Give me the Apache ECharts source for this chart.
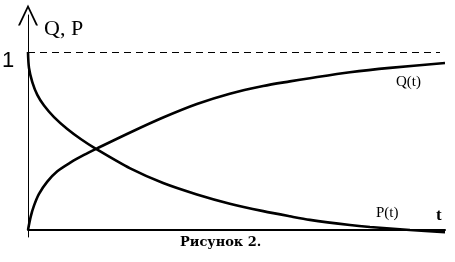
<!DOCTYPE html>
<html>
<head>
<meta charset="utf-8">
<script src="https://cdn.jsdelivr.net/npm/echarts@6/dist/echarts.min.js"></script>
<style>html,body{margin:0;padding:0;background:#fff}#c{width:455px;height:262px}</style>
</head>
<body>
<div id="c"></div>
<script>
// time (0..100 across the axis) and curve values
const qT = [0, 0.65, 1.44, 2.64, 4.63, 7.03, 10.24, 13.43, 16.6, 24.5, 32.4, 40.5, 48.4, 56.4, 62.8, 67.6, 77.2, 86.8, 100];
const qV = [0, 0.075, 0.137, 0.203, 0.272, 0.33, 0.38, 0.422, 0.459, 0.548, 0.632, 0.708, 0.766, 0.809, 0.835, 0.853, 0.886, 0.911, 0.938];
const pT = [0, 0.24, 1.03, 2.23, 3.84, 6.24, 9.42, 12.64, 16.2, 24.5, 32.4, 40.5, 48.4, 56.4, 62.8, 67.6, 77.2, 82.0, 91.6, 100];
const pV = [1.0, 0.91, 0.831, 0.759, 0.699, 0.634, 0.567, 0.511, 0.457, 0.346, 0.264, 0.2, 0.148, 0.106, 0.077, 0.057, 0.028, 0.017, 0.0, -0.012];
const refLevel = 1;
const axisLabelY = '1';
const axisNameY = 'Q, P';
const axisNameX = 't';
const seriesNames = ['Q(t)', 'P(t)'];
const caption = 'Рисунок 2.';

const chart = echarts.init(document.getElementById('c'), null, {renderer: 'canvas'});
const serif = '"Liberation Serif", "DejaVu Serif", serif';
chart.setOption({
  animation: false,
  backgroundColor: '#fff',
  grid: {left: 28, right: 10, top: 15, bottom: 25},
  xAxis: {
    type: 'value', min: 0, max: 100,
    axisLine: {onZero: true, lineStyle: {color: '#000', width: 2}},
    axisTick: {show: false}, axisLabel: {show: false}, splitLine: {show: false}
  },
  yAxis: {
    type: 'value', min: -0.0393, max: 1.2079,
    axisLine: {show: true, lineStyle: {color: '#000', width: 1},
      symbol: ['none', 'path://M0,21 L10,0 L20,21 L18,21 L10,4 L2,21 Z'],
      symbolSize: [20, 21]},
    axisTick: {show: false}, axisLabel: {show: false}, splitLine: {show: false}
  },
  series: [
    {
      name: seriesNames[0], type: 'line', smooth: 0.3, showSymbol: false,
      data: qT.map((t, i) => [t, qV[i]]),
      lineStyle: {color: '#000', width: 2.6},
      markLine: {
        silent: true, symbol: ['none', 'none'], label: {show: false},
        lineStyle: {color: '#000', width: 1, type: [7, 5]},
        data: [[{coord: [0, refLevel]}, {coord: [98.8, refLevel]}]]
      }
    },
    {
      name: seriesNames[1], type: 'line', smooth: 0.3, showSymbol: false,
      data: pT.map((t, i) => [t, pV[i]]),
      lineStyle: {color: '#000', width: 2.6}
    }
  ],
  graphic: [
    {type: 'text', left: 44, top: 18, style: {text: axisNameY, font: '22px ' + serif, fill: '#000'}},
    {type: 'text', left: 2, top: 50, style: {text: axisLabelY, font: '22px "Liberation Sans", Arial, sans-serif', fill: '#000'}},
    {type: 'text', left: 396, top: 75, style: {text: seriesNames[0], font: '15px ' + serif, fill: '#000'}},
    {type: 'text', left: 376, top: 206, style: {text: seriesNames[1], font: '15px ' + serif, fill: '#000'}},
    {type: 'text', left: 436, top: 207, style: {text: axisNameX, font: 'bold 17px ' + serif, fill: '#000'}},
    {type: 'text', left: 180, top: 236, style: {text: caption, font: 'bold 13px "DejaVu Serif", serif', fill: '#000'}}
  ]
});
</script>
</body>
</html>
